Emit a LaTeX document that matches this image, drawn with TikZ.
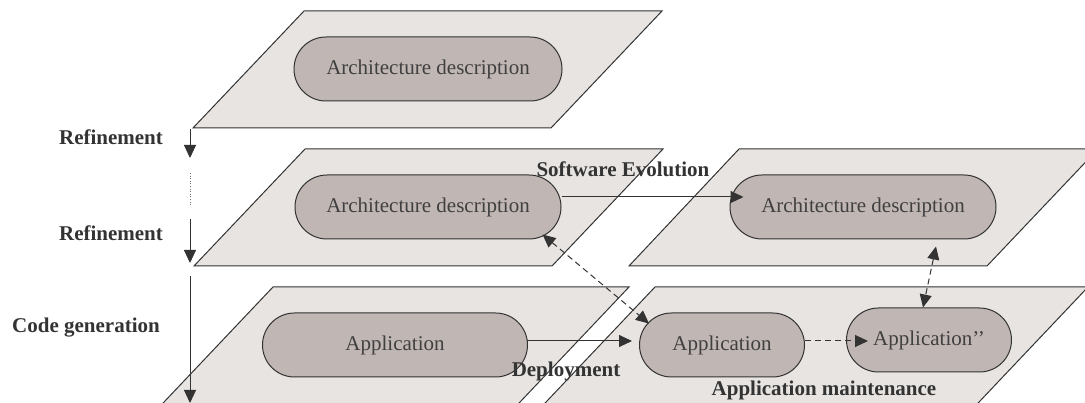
\documentclass[tikz,border=0pt]{standalone}
\usepackage{fontspec}
\setmainfont{Liberation Serif}
\usetikzlibrary{arrows.meta}
\definecolor{planefill}{HTML}{E7E4E1}
\definecolor{stadfill}{HTML}{C0B6B3}
\definecolor{ink}{HTML}{333333}
\definecolor{txt}{HTML}{404040}

\begin{document}
\begin{tikzpicture}[x=1pt,y=-1pt,
  plane/.style={draw=ink, fill=planefill, line width=1pt},
  stadium/.style={draw=ink, fill=stadfill, line width=1pt, rounded corners=32pt,
    minimum height=64pt, inner sep=0pt, text=txt, font=\fontsize{21}{25}\selectfont},
  lbl/.style={font=\bfseries\fontsize{21}{25}\selectfont, text=ink, inner sep=0pt},
  tip/.tip={Triangle[length=13pt,width=12pt]},
  conn/.style={draw=ink, line width=1pt, -tip},
  dconn/.style={conn, dash pattern=on 6pt off 4pt},
  ddconn/.style={dconn, tip-tip},
]
\useasboundingbox (0,0) rectangle (1085,403);
\clip (0,0) rectangle (1085,403);

% layer planes
\path[plane] (193,128) -- (551,128) -- (662,11) -- (304,11) -- cycle;
\path[plane] (194,266) -- (552,266) -- (663,149) -- (305,149) -- cycle;
\path[plane] (629,266) -- (987,266) -- (1098,149) -- (739,149) -- cycle;
\path[plane] (147,420) -- (503,420) -- (629,287) -- (273,287) -- cycle;
\path[plane] (529,420) -- (962,420) -- (1088,287) -- (655,287) -- cycle;

% model elements
\node[stadium, minimum width=268pt] (arch1) at (428,69) {Architecture description};
\node[stadium, minimum width=266pt] (arch2) at (428,207) {Architecture description};
\node[stadium, minimum width=266pt] (arch3) at (863,207) {Architecture description};
\node[stadium, minimum width=265pt] (app1) at (395,345) {Application};
\node[stadium, minimum width=165pt] (app2) at (722,345) {Application};
\node[stadium, minimum width=165pt] (app3) at (929,340) {Application’’};

% transformation chain on the left
\coordinate (r1a) at (190,129);
\coordinate (r1b) at (190,158);
\coordinate (dota) at (190,173);
\coordinate (dotb) at (190,205);
\coordinate (r2a) at (190,219);
\coordinate (r2b) at (190,263);
\coordinate (cga) at (190,276);
\coordinate (cgb) at (190,403);
\draw[conn] (r1a) -- (r1b);
\draw[draw=ink!70, line width=0.6pt, dotted] (dota) -- (dotb);
\draw[conn] (r2a) -- (r2b);
\draw[conn] (cga) -- (cgb);

% relations between elements
\draw[conn] ([yshift=10pt]arch2.east) -- ([yshift=10pt,xshift=14pt]arch3.west);
\draw[conn] ([xshift=-1pt,yshift=4pt]app1.east) -- ([xshift=-7pt,yshift=4pt]app2.west);
\draw[dconn] ([yshift=4pt]app2.east) -- ([xshift=22pt,yshift=-1pt]app3.west);
\draw[ddconn] ([xshift=-19pt,yshift=5pt]arch2.south east) -- ([xshift=10pt,yshift=-11pt]app2.north west);
\draw[ddconn] ([xshift=73pt,yshift=-7pt]arch3.south) -- ([xshift=-6pt]app3.north);

% labels
\node[lbl] (ref1) at (111,137) {Refinement};
\node[lbl] (ref2) at (111,233) {Refinement};
\node[lbl] (codegen) at (86,328) {Code generation};
\node[lbl] (evol) at (623,169) {Software Evolution};
\node[lbl] (deploy) at (566,371) {Deployment};
\node[lbl] (maint) at (824,390) {Application maintenance};
\end{tikzpicture}
\end{document}
